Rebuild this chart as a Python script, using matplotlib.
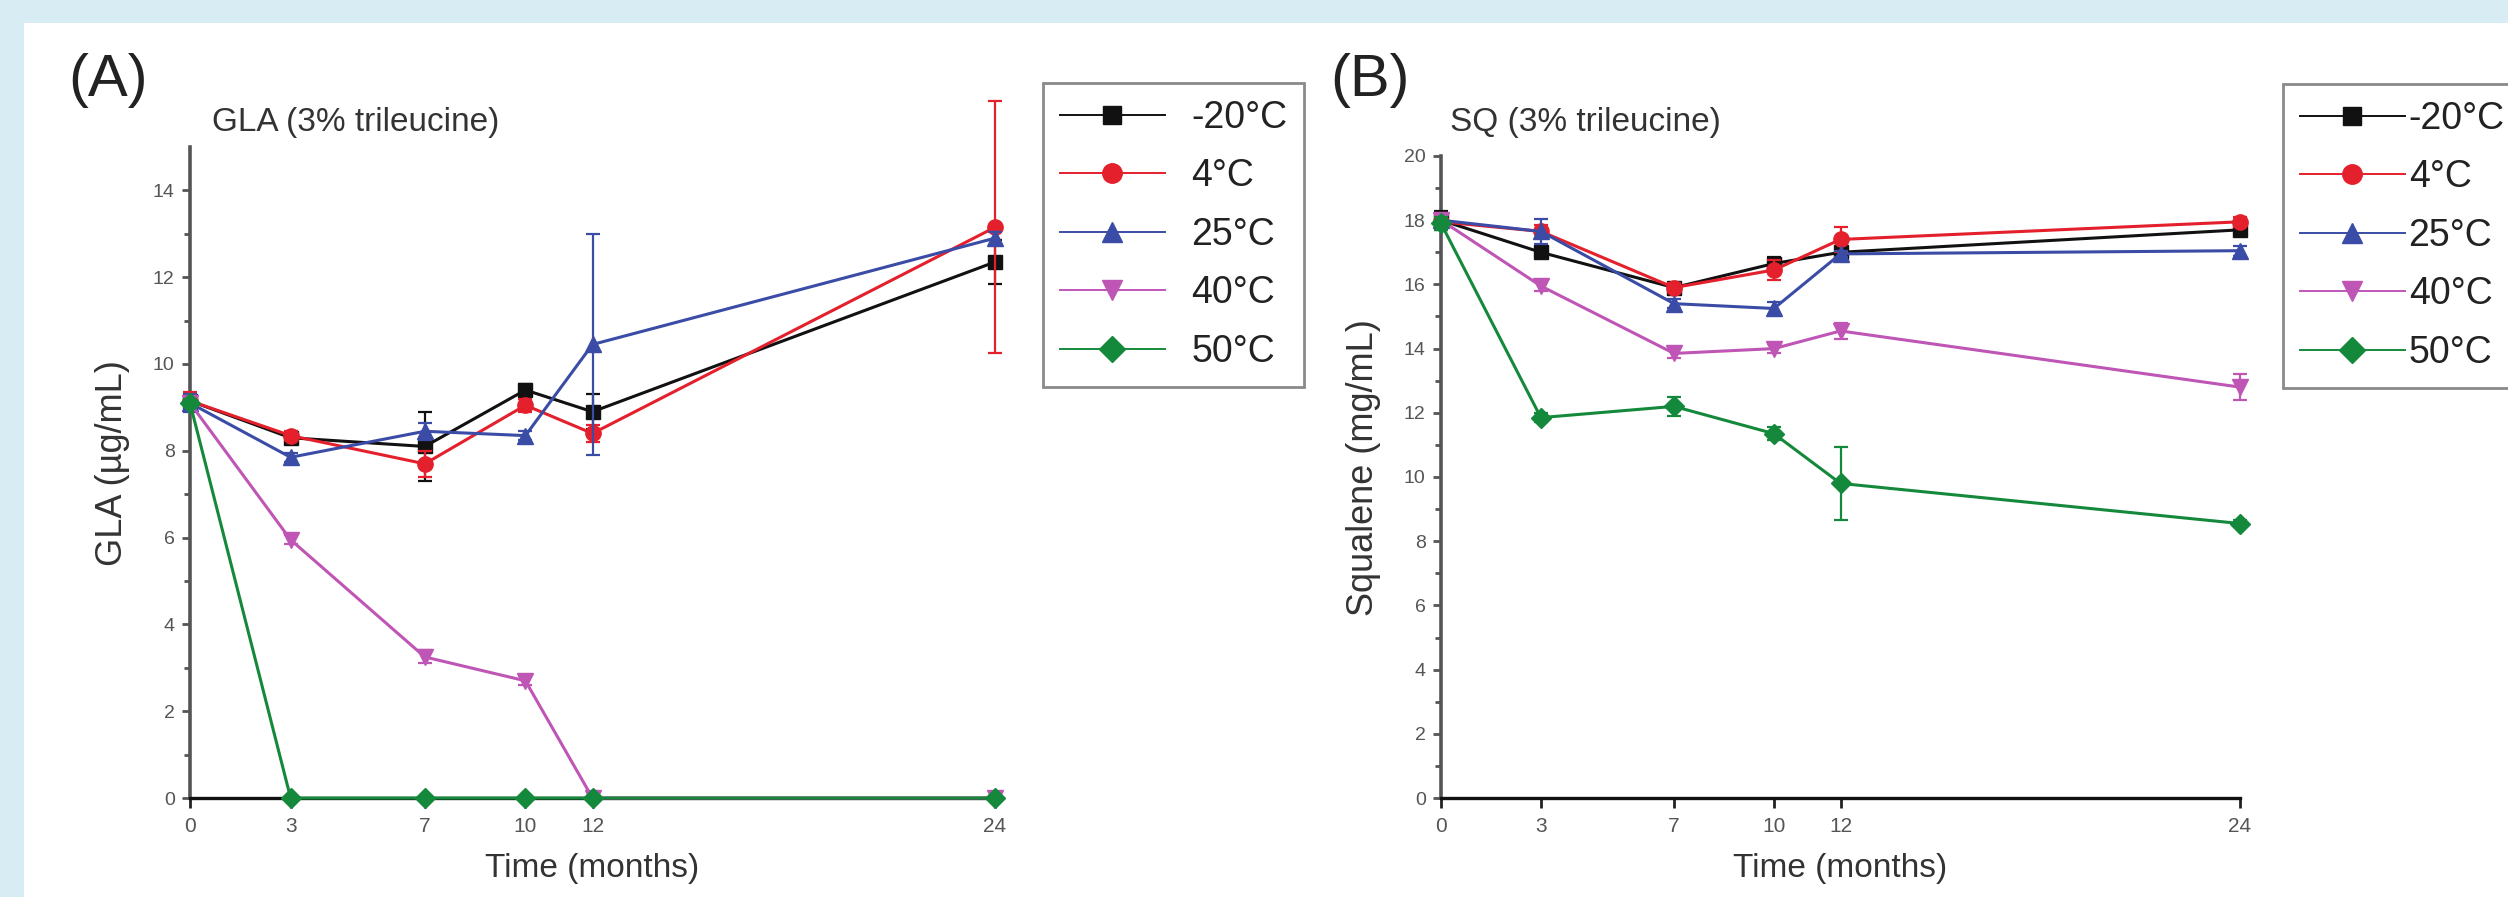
import matplotlib
matplotlib.use("Agg")
import matplotlib.pyplot as plt
from matplotlib import font_manager
from matplotlib.lines import Line2D
from matplotlib.patches import Rectangle

# time points (months)
months = [0, 3, 7, 10, 12, 24]
temps = ["-20°C", "4°C", "25°C", "40°C", "50°C"]

# panel A: GLA (ug/mL)
gla_m20 = [9.15, 8.3, 8.1, 9.4, 8.9, 12.35]
gla_m20_err = [0.15, 0.1, 0.8, 0.15, 0.4, 0.5]
gla_4 = [9.15, 8.35, 7.7, 9.05, 8.4, 13.15]
gla_4_err = [0.2, 0.1, 0.3, 0.15, 0.2, 2.9]
gla_25 = [9.1, 7.85, 8.45, 8.35, 10.45, 12.9]
gla_25_err = [0.2, 0.1, 0.2, 0.1, 2.55, 0.15]
gla_40 = [9.1, 5.95, 3.25, 2.7, 0.0, 0.0]
gla_40_err = [0.1, 0.1, 0.15, 0.1, 0.0, 0.0]
gla_50 = [9.1, 0.0, 0.0, 0.0, 0.0, 0.0]
gla_50_err = [0.1, 0.0, 0.0, 0.0, 0.0, 0.0]

# panel B: squalene (mg/mL)
sq_m20 = [18.0, 17.0, 15.9, 16.65, 17.0, 17.7]
sq_m20_err = [0.3, 0.1, 0.1, 0.2, 0.1, 0.1]
sq_4 = [17.95, 17.65, 15.9, 16.45, 17.4, 17.95]
sq_4_err = [0.2, 0.2, 0.15, 0.3, 0.4, 0.15]
sq_25 = [18.0, 17.65, 15.4, 15.25, 16.95, 17.05]
sq_25_err = [0.2, 0.4, 0.15, 0.2, 0.1, 0.15]
sq_40 = [18.0, 15.95, 13.85, 14.0, 14.55, 12.8]
sq_40_err = [0.1, 0.15, 0.15, 0.15, 0.25, 0.4]
sq_50 = [17.9, 11.85, 12.2, 11.35, 9.8, 8.55]
sq_50_err = [0.2, 0.15, 0.3, 0.2, 1.15, 0.1]

colors = ["#111111", "#e3202c", "#3a4ca6", "#bf55b5", "#15893b"]
markers = ["s", "o", "^", "v", "D"]
msizes = [10, 11, 12, 12, 10]

names = {f.name for f in font_manager.fontManager.ttflist}
main_font = "Liberation Sans" if "Liberation Sans" in names else "DejaVu Sans"
tick_font = "Liberation Sans Narrow" if "Liberation Sans Narrow" in names else main_font
plt.rcParams["font.family"] = [main_font, "DejaVu Sans"]

W, H = 2508, 897
fig = plt.figure(figsize=(W / 100, H / 100), dpi=100, facecolor="#d8ecf3")
fig.patches.append(Rectangle((24 / W, 0), 1, 1 - 23 / H, transform=fig.transFigure,
                             facecolor="white", edgecolor="none", zorder=-5))


def make_axes(rect, ylim, yticks, series, errs, ylabel, title, title_x, panel, panel_x,
              leg_x, leg_y, leg_pad):
    ax = fig.add_axes(rect)
    ax.patch.set_alpha(0)
    for i, (vals, e) in enumerate(zip(series, errs)):
        ax.errorbar(months, vals, yerr=e, color=colors[i], marker=markers[i], ms=msizes[i],
                    lw=2.2, elinewidth=1.6, capsize=5, capthick=1.6, clip_on=False,
                    zorder=3 + i)
    ax.set_xlim(0, 24)
    ax.set_ylim(*ylim)
    ax.set_xticks(months)
    ax.set_yticks(yticks)
    ax.set_yticks(range(1, ylim[1], 2), minor=True)
    for s in ["top", "right"]:
        ax.spines[s].set_visible(False)
    ax.spines["left"].set_color("#555555")
    ax.spines["left"].set_linewidth(2.6)
    ax.spines["bottom"].set_color("#111111")
    ax.spines["bottom"].set_linewidth(2.4)
    ax.tick_params(axis="x", direction="out", length=7, width=2, color="#222222",
                   labelsize=15, labelcolor="#555555", pad=7)
    ax.tick_params(axis="y", which="major", direction="out", length=6, width=2,
                   color="#555555", labelsize=14, labelcolor="#555555", pad=5)
    ax.tick_params(axis="y", which="minor", direction="out", length=4, width=2,
                   color="#555555")
    for lab in ax.get_xticklabels() + ax.get_yticklabels():
        lab.set_fontfamily(tick_font)
    ax.set_xlabel("Time (months)", fontsize=24, color="#333333", labelpad=12)
    ax.set_ylabel(ylabel, fontsize=26, color="#333333")
    ax.yaxis.set_label_coords(-0.075, 0.515)
    fig.text(title_x / W, 1 - 123 / H, title, fontsize=24, color="#333333", va="center")
    fig.text(panel_x / W, 1 - 81 / H, panel, fontsize=43, color="#222222", va="center")

    handles = [Line2D([], [], color=colors[i], marker=markers[i], ms=msizes[i] + 3, lw=1.4)
                for i in range(5)]
    leg = fig.legend(handles, temps, loc="upper left", bbox_to_anchor=(leg_x / W, 1 - leg_y / H),
                     fontsize=27, frameon=True, fancybox=False, framealpha=1,
                     edgecolor="#8a8a8a", handlelength=2.8, handletextpad=leg_pad,
                     labelspacing=0.6, borderpad=0.45, borderaxespad=0)
    leg.get_frame().set_linewidth(2)
    for t in leg.get_texts():
        t.set_color("#222222")
    return ax


make_axes([190 / W, 1 - 798 / H, 805 / W, 651 / H], (0, 15), range(0, 15, 2),
          [gla_m20, gla_4, gla_25, gla_40, gla_50],
          [gla_m20_err, gla_4_err, gla_25_err, gla_40_err, gla_50_err],
          "GLA (µg/mL)", "GLA (3% trileucine)", 212, "(A)", 68, 1043, 83, 0.7)

make_axes([1441 / W, 1 - 798 / H, 799 / W, 642 / H], (0, 20), range(0, 21, 2),
          [sq_m20, sq_4, sq_25, sq_40, sq_50],
          [sq_m20_err, sq_4_err, sq_25_err, sq_40_err, sq_50_err],
          "Squalene (mg/mL)", "SQ (3% trileucine)", 1450, "(B)", 1330, 2283, 84, 0.1)

fig.savefig("out.png", dpi=100, facecolor=fig.get_facecolor())
